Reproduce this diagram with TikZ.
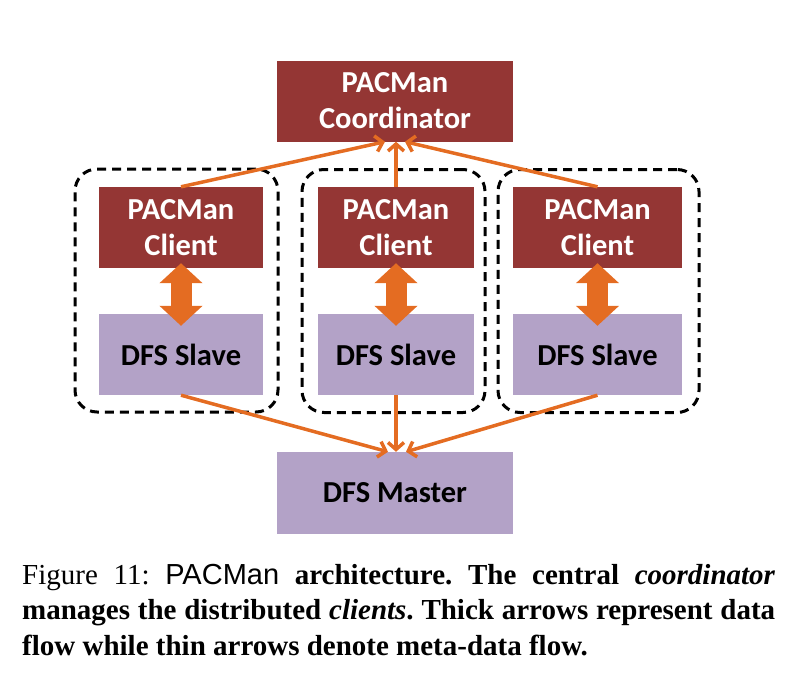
\documentclass[tikz,border=0pt]{standalone}
\usepackage{fontspec}
\setmainfont{Liberation Serif}
\newfontfamily\boxfont{Carlito}
\newfontfamily\capsans{Liberation Sans}
\usepackage{xcolor}
\usetikzlibrary{
    arrows.meta,
    positioning
}
\definecolor{pacred}{HTML}{943634}
\definecolor{dfspurple}{HTML}{B3A2C7}
\definecolor{flow}{HTML}{E46C22}

\begin{document}
\begin{tikzpicture}[x=1pt,y=-1pt,
    pacman/.style={fill=pacred,text=white,align=center,inner sep=0pt,minimum height=81pt,
        font=\boxfont\bfseries\fontsize{30.5}{36}\selectfont},
    dfs/.style={fill=dfspurple,text=black,align=center,inner sep=0pt,minimum height=81pt,
        font=\boxfont\bfseries\fontsize{30.5}{36}\selectfont},
    group/.style={draw=black,line width=3pt,dash pattern=on 9pt off 6pt,
        rounded corners=22pt,minimum height=243pt,inner sep=0pt},
    meta/.style={draw=flow,line width=3.5pt,-{Straight Barb[length=7pt,width=16pt]}},
    data/.style={draw=flow,line width=21pt,
        {Triangle[length=20pt,width=42pt]}-{Triangle[length=20pt,width=42pt]}}
]
\useasboundingbox (0,0) rectangle (792,680);

% dashed groups
\node[group,minimum width=203pt] (grpL) at (176.5,290.5) {};
\node[group,minimum width=183pt] (grpM) at (393.5,291) {};
\node[group,minimum width=201pt] (grpR) at (598.5,291) {};

\node[pacman,minimum width=236pt] (coord) at (395,101) {PACMan\\Coordinator};

\node[pacman,minimum width=164pt] (clL) at (181,227.5) {PACMan\\Client};
\node[pacman,minimum width=156pt] (clM) at (396,227.5) {PACMan\\Client};
\node[pacman,minimum width=169pt] (clR) at (597.5,227.5) {PACMan\\Client};

\node[dfs,minimum width=164pt] (slL) at (181,354.5) {DFS Slave};
\node[dfs,minimum width=156pt] (slM) at (396,354.5) {DFS Slave};
\node[dfs,minimum width=169pt] (slR) at (597.5,354.5) {DFS Slave};

\node[dfs,minimum width=236pt,minimum height=82pt] (master) at (395,493) {DFS Master};

% data flow
\draw[data,shorten <=-5pt,shorten >=-12pt] (clL.south) -- (slL.north);
\draw[data,shorten <=-5pt,shorten >=-12pt] (clM.south) -- (slM.north);
\draw[data,shorten <=-5pt,shorten >=-12pt] (clR.south) -- (slR.north);

% meta-data flow
\draw[meta] (clL.north) -- ([xshift=-10pt]coord.south);
\draw[meta] (clM.north) -- (clM.north |- coord.south);
\draw[meta] (clR.north) -- ([xshift=10pt]coord.south);

\draw[meta] (slL.south) -- ([xshift=-7pt]master.north);
\draw[meta] (slM.south) -- (slM.south |- master.north);
\draw[meta] (slR.south) -- ([xshift=11pt]master.north);

\node[anchor=base west,text width=753pt,align=justify,inner sep=0pt,
    font=\frenchspacing\bfseries\fontsize{29}{35.5}\selectfont] (caption) at (22,584)
    {{\mdseries Figure 11: {\capsans PACMan}} architecture. The central \textit{coordinator}\linebreak
    manages the distributed \textit{clients}. Thick arrows represent data\linebreak
    flow while thin arrows denote meta-data flow.};
\end{tikzpicture}
\end{document}
